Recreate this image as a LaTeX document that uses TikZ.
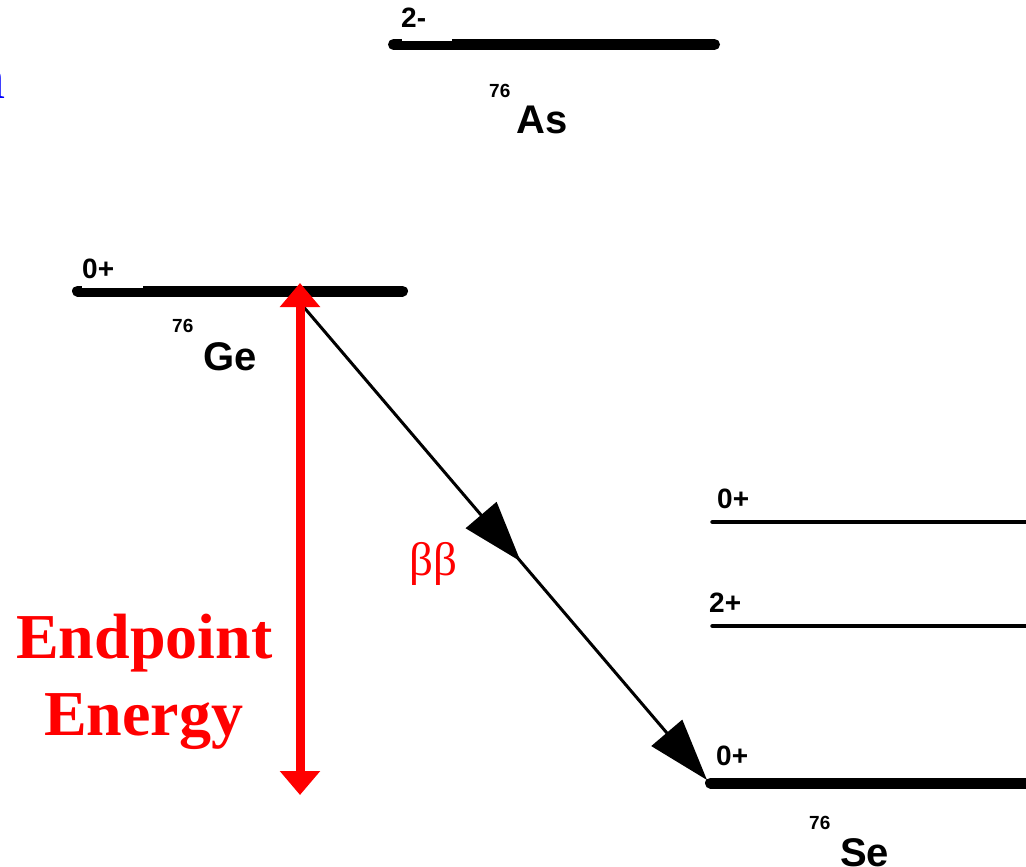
\documentclass[tikz,border=0pt]{standalone}
\usepackage{fontspec}
\setmainfont{Liberation Serif}
\setsansfont{Liberation Sans}
\usetikzlibrary{arrows.meta,decorations.markings}
\tikzset{
  lvlthick/.style={line width=11pt,line cap=round},
  lvlthin/.style={line width=4.5pt,line cap=round},
  spin/.style={inner sep=0pt,anchor=base west,font=\sffamily\bfseries\fontsize{28}{30}\selectfont},
  massno/.style={inner sep=0pt,anchor=base west,font=\sffamily\bfseries\fontsize{19}{20}\selectfont},
  elem/.style={inner sep=0pt,anchor=base west,font=\sffamily\bfseries\fontsize{40}{42}\selectfont},
  notch/.style={fill=white,draw=none},
  eptext/.style={inner sep=0pt,anchor=base west,text=red,font=\bfseries\fontsize{64}{66}\selectfont},
}
\begin{document}
\begin{tikzpicture}[x=1pt,y=-1pt]
\useasboundingbox[fill=white] (0,0) rectangle (1026,867);
% clipped blue title fragment
\node[inner sep=0pt,anchor=base east,text=blue,font=\fontsize{60}{62}\selectfont] (title) at (6,99) {n};
% As level
\coordinate (asL) at (393.5,44.5);
\coordinate (asR) at (714.5,44.5);
\draw[lvlthick] (asL) -- (asR);
\fill[notch] (402,38) rectangle (452,41.5);
\node[spin] (asspin) at (401,28) {2-};
\node[massno] (asA) at (489,98) {76};
\node[elem] (asX) at (516,133) {As};
% Ge level
\coordinate (geL) at (77.5,291);
\coordinate (geR) at (402.5,291);
\draw[lvlthick] (geL) -- (geR);
\fill[notch] (82,284) rectangle (143,288);
\node[spin] (gespin) at (82,278) {0+};
\node[massno] (geA) at (172,332) {76};
\node[elem] (geX) at (203,370) {Ge};
% Se levels
\coordinate (se2L) at (712.5,522);
\coordinate (se2R) at (1040,522);
\draw[lvlthin] (se2L) -- (se2R);
\node[spin] (se2spin) at (717,508) {0+};
\coordinate (se1L) at (712.5,626);
\coordinate (se1R) at (1040,626);
\draw[lvlthin] (se1L) -- (se1R);
\node[spin] (se1spin) at (709,612) {2+};
\coordinate (se0L) at (710.5,783);
\coordinate (se0R) at (1040,783);
\draw[lvlthick] (se0L) -- (se0R);
\node[spin] (se0spin) at (716,765) {0+};
\node[massno] (seA) at (809,829) {76};
\node[elem] (seX) at (840,866) {Se};
% double beta decay arrow
\coordinate (bbS) at (302,305);
\coordinate (bbE) at (707,780);
\draw[line width=3pt,
  postaction={decorate},
  decoration={markings,mark=at position 0.54 with {\arrow{Triangle[length=61pt,width=40pt]}}},
  -{Triangle[length=62pt,width=40pt]}] (bbS) -- (bbE);
\node[inner sep=0pt,anchor=base west,text=red,font=\fontsize{47}{49}\selectfont] (bb) at (409,575) {ββ};
% endpoint energy arrow
\coordinate (epT) at (300,283);
\coordinate (epB) at (300,795);
\draw[red,line width=9pt,{Triangle[length=24pt,width=39pt]}-{Triangle[length=24pt,width=39pt]}] (epB) -- (epT);
\node[eptext] (ep1) at (16,658) {Endpoint};
\node[eptext] (ep2) at (44,735) {Energy};
\end{tikzpicture}
\end{document}
